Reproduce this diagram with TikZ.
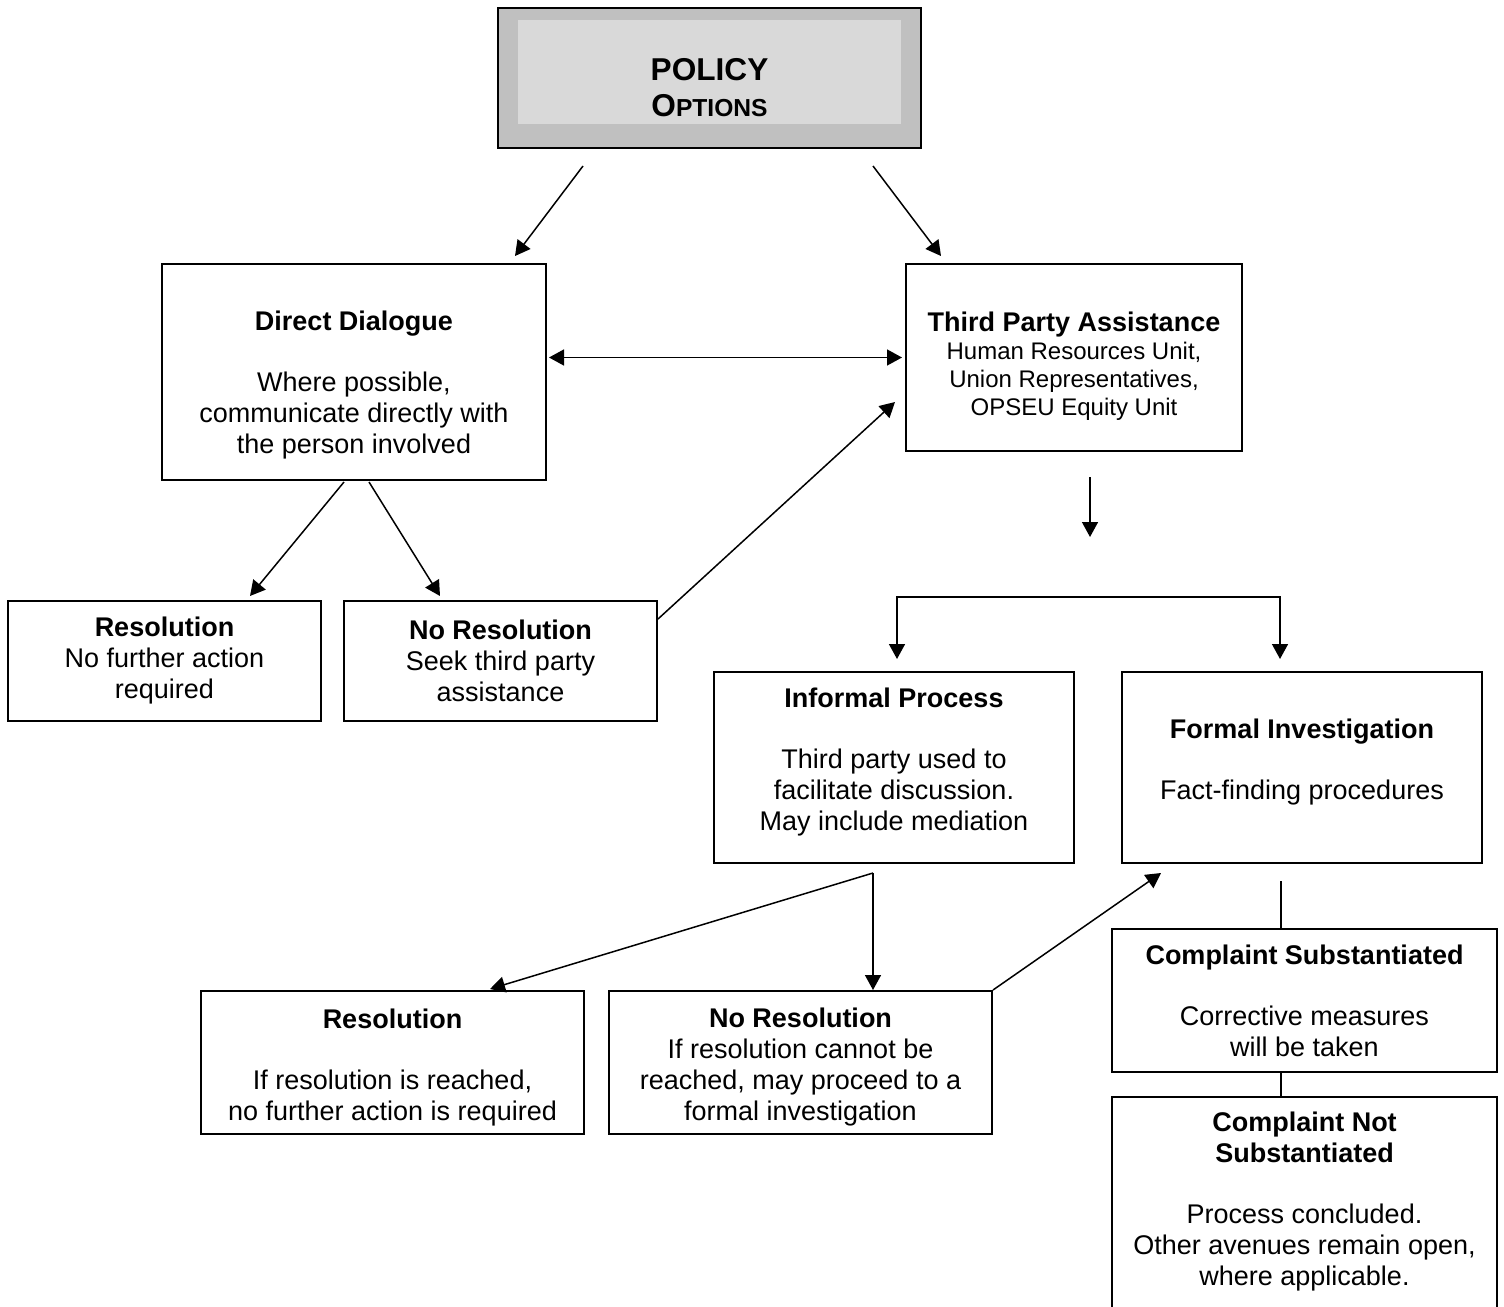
\documentclass[tikz,border=0pt]{standalone}
\usepackage{fontspec}
\setmainfont{Liberation Sans}
\usetikzlibrary{arrows.meta,calc}
\definecolor{policyout}{HTML}{C0C0C0}
\definecolor{policyin}{HTML}{D9D9D9}
\newcommand\padtop[1]{\rule{0pt}{#1}}
\newcommand\padbot[1]{\rule[-#1]{0pt}{#1}}

\begin{document}
\begin{tikzpicture}
	[x=0.5pt,y=-0.5pt,
	every node/.style={draw,line width=1pt,align=center,inner sep=0pt,
		font=\fontsize{13.5}{15.5}\selectfont},
	tip/.style={-{Triangle[length=7.5pt,width=8pt]},line width=0.75pt},
	tips/.style={{Triangle[length=7.5pt,width=8pt]}-{Triangle[length=7.5pt,width=8pt]},line width=0.75pt},
	bar/.style={line width=0.75pt}]
	\useasboundingbox (0,0) rectangle (1504,1306);
	
	% top box
	\node[fill=policyout,minimum width=211.5pt,minimum height=70pt] (policy) at (709.5,78) {};
	\node[draw=none,fill=policyin,minimum width=191.5pt,minimum height=52pt] (policybg) at (709.5,72) {};
	\node[draw=none,font=\fontsize{15.8}{18}\selectfont\bfseries] (policytxt) at (709.5,88)
		{POLICY\\O{\fontsize{12.3}{18}\selectfont PTIONS}};
	
	% first level
	\node[minimum width=192pt,minimum height=108pt] (dd) at (354,372)
		{\padtop{23pt}\textbf{Direct Dialogue}\\[15pt]Where possible,\\communicate directly with\\the person involved};
	\node[minimum width=168pt,minimum height=93.5pt,font=\fontsize{12}{14}\selectfont] (tpa) at (1074,357.5)
		{\padtop{18pt}{\fontsize{13.5}{14}\selectfont\bfseries Third Party Assistance}\\Human Resources Unit,\\Union Representatives,\\OPSEU Equity Unit};
	\node[minimum width=156.5pt,minimum height=60pt] (res1) at (164.5,661)
		{\textbf{Resolution}\\No further action\\required};
	\node[minimum width=156.5pt,minimum height=60pt] (nores1) at (500.5,661)
		{\textbf{No Resolution}\\Seek third party\\assistance};
	
	% third party
	\node[minimum width=180pt,minimum height=95.5pt] (inf) at (894,767.5)
		{\textbf{Informal Process}\\[15pt]Third party used to\\facilitate discussion.\\May include mediation\padbot{7.8pt}};
	\node[minimum width=180pt,minimum height=95.5pt] (formal) at (1302,767.5)
		{\textbf{Formal Investigation}\\[15pt]Fact-finding procedures\padbot{7.8pt}};
	\node[minimum width=191.5pt,minimum height=71.5pt] (res2) at (392.5,1062.5)
		{\padtop{14.4pt}\textbf{Resolution}\\[15pt]If resolution is reached,\\no further action is required};
	\node[minimum width=191.5pt,minimum height=71.5pt] (nores2) at (800.5,1062.5)
		{\padtop{14.4pt}\textbf{No Resolution}\\If resolution cannot be\\reached, may proceed to a\\formal investigation};
	\node[minimum width=192.5pt,minimum height=71.5pt] (csub) at (1304.5,1000.5)
		{\textbf{Complaint Substantiated}\\[15pt]Corrective measures\\will be taken};
	\node[minimum width=192.5pt,minimum height=111.5pt] (cnot) at (1304.5,1208.5)
		{\textbf{Complaint Not}\\\textbf{Substantiated}\\[15pt]Process concluded.\\Other avenues remain open,\\where applicable.\padbot{9.8pt}};
	
	\coordinate (forkl) at ($(inf.north)+(3,-74)$);
	\coordinate (forkr) at ($(formal.north)+(-22,-74)$);
	\coordinate (split) at ($(inf.south)+(-21,9)$);
	
	% arrows
	\draw[tip] ($(policy.south)+(-126.5,17)$) -- ($(dd.north)+(161,-7)$);
	\draw[tip] ($(policy.south)+(163.5,17)$) -- ($(tpa.north)+(-133,-7)$);
	\draw[tips] ($(dd.east |- tpa.west)+(2,0)$) -- ($(tpa.west)+(-3,0)$);
	\draw[tip] ($(dd.south)+(-10,1)$) -- ($(res1.north)+(85.5,-4)$);
	\draw[tip] ($(dd.south)+(15,1)$) -- ($(nores1.north)+(-60.5,-4)$);
	\draw[tip] ($(nores1.north east)+(0,19)$) -- ($(tpa.west)+(-10,44.5)$);
	\draw[tip] ($(tpa.south)+(16,25)$) -- ($(tpa.south)+(16,85)$);
	\draw[tips] ($(forkl)+(0,62)$) -- (forkl) -- (forkr) -- ($(forkr)+(0,62)$);
	\draw[tip] (split) -- ($(res2.north)+(97.5,-1)$);
	\draw[tip] (split) -- (split |- nores2.north);
	\draw[tip] (nores2.north east) -- ($(formal.south west)+(40,9)$);
	\draw[bar] ($(formal.south)+(-21,17)$) -- ($(csub.north)+(-23.5,0)$);
	\draw[bar] ($(csub.south)+(-23.5,0)$) -- ($(cnot.north)+(-23.5,0)$);
\end{tikzpicture}
\end{document}
